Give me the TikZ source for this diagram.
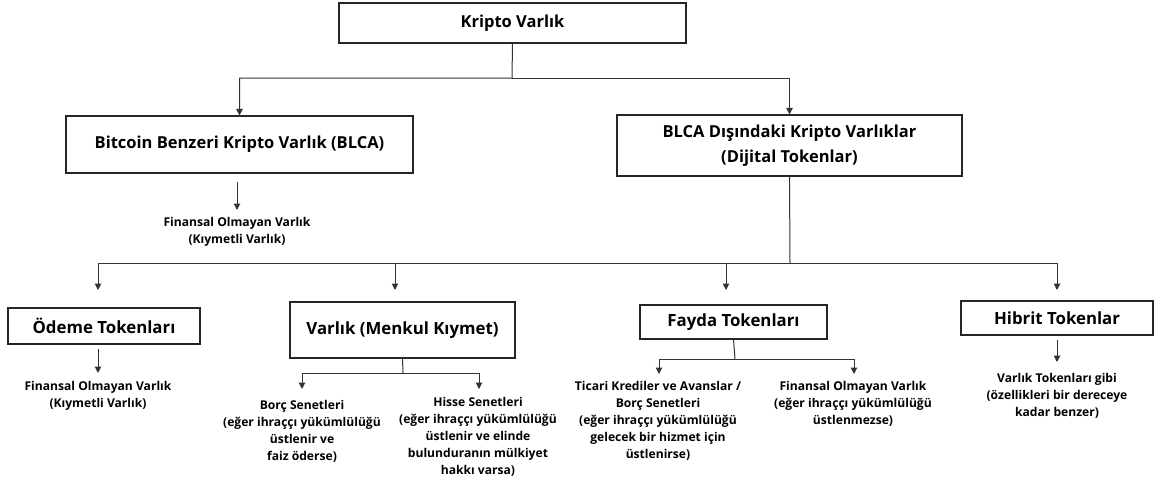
\documentclass[tikz,border=0pt]{standalone}
\usepackage{fontspec}
\setmainfont{Open Sans}
\usetikzlibrary{arrows.meta}
\begin{document}
\begin{tikzpicture}[x=1pt,y=-1pt,
  box/.style={draw=black!85, line width=1.1pt, rectangle, inner sep=0pt, align=center, font=\bfseries},
  bigtxt/.style={font=\fontsize{16.5}{25}\selectfont\bfseries},
  midtxt/.style={font=\fontsize{16.8}{20}\selectfont\bfseries},
  note/.style={align=center, inner sep=0pt, font=\fontsize{12.1}{17}\selectfont\bfseries},
  link/.style={draw=black!80, line width=1pt},
  arr/.style={link, -{Triangle[width=6.5pt,length=6.5pt]}}]
\useasboundingbox (0,0) rectangle (1162,483);

% top level
\node[box, bigtxt, minimum width=347pt, minimum height=40pt] (top) at (512.5,23) {Kripto Varlık};

% second level
\node[box, bigtxt, minimum width=347pt, minimum height=57pt] (blca) at (239.5,144.5) {Bitcoin Benzeri Kripto Varlık (BLCA)};
\node[box, bigtxt, minimum width=345pt, minimum height=61pt] (dij) at (789.5,145.5) {BLCA Dışındaki Kripto Varlıklar\\(Dijital Tokenlar)};

\coordinate (j1) at (512,78);
\draw[arr] (top.south) -- (j1) -| (blca.north);
\draw[arr] (j1) -| (dij.north);

% BLCA branch
\coordinate (b1) at (237,182);
\coordinate (b2) at (237,210);
\draw[arr] (b1) -- (b2);
\node[note] (blcaT) at (237,232) {Finansal Olmayan Varlık\\(Kıymetli Varlık)};

% token types
\node[box, midtxt, minimum width=192pt, minimum height=36pt] (odeme) at (104,326) {Ödeme Tokenları};
\node[box, midtxt, minimum width=225pt, minimum height=56pt] (varlik) at (402.5,330) {Varlık (Menkul Kıymet)};
\node[box, midtxt, minimum width=187pt, minimum height=34pt] (fayda) at (733.5,322) {Fayda Tokenları};
\node[box, midtxt, minimum width=192pt, minimum height=34pt] (hibrit) at (1057,318) {Hibrit Tokenlar};

\coordinate (j2) at (790,263);
\coordinate (t1) at (98,290);
\coordinate (t2) at (395,290);
\coordinate (t3) at (726,290);
\coordinate (t4) at (1057,290);
\coordinate (s2) at (395,263);
\coordinate (s3) at (726,263);
\draw[link] (dij.south) -- (j2);
\draw[arr] (j2) -| (t1);
\draw[arr] (j2) -| (t4);
\draw[arr] (s2) -- (t2);
\draw[arr] (s3) -- (t3);

% payment tokens
\coordinate (o1) at (98,349);
\coordinate (o2) at (98,373);
\draw[arr] (o1) -- (o2);
\node[note] (odemeT) at (98,396) {Finansal Olmayan Varlık\\(Kıymetli Varlık)};

% security tokens
\coordinate (j3) at (403,373);
\coordinate (v1) at (302,389);
\coordinate (v2) at (479,389);
\draw[link] (varlik.south) -- (j3);
\draw[arr] (j3) -| (v1);
\draw[arr] (j3) -| (v2);
\node[note] (borc) at (302,431) {Borç Senetleri\\(eğer ihraççı yükümlülüğü\\üstlenir ve\\faiz öderse)};
\node[note] (hisse) at (478,436.5) {Hisse Senetleri\\(eğer ihraççı yükümlülüğü\\üstlenir ve elinde\\bulunduranın mülkiyet\\hakkı varsa)};

% utility tokens
\coordinate (j4) at (735,359);
\coordinate (f1) at (659,374);
\coordinate (f2) at (854,374);
\draw[link] (fayda.south) -- (j4);
\draw[arr] (j4) -| (f1);
\draw[arr] (j4) -| (f2);
\node[note] (ticari) at (658,421) {Ticari Krediler ve Avanslar /\\Borç Senetleri\\(eğer ihraççı yükümlülüğü\\gelecek bir hizmet için\\üstlenirse)};
\node[note] (fayT) at (853,404) {Finansal Olmayan Varlık\\(eğer ihraççı yükümlülüğü\\üstlenmezse)};

% hybrid tokens
\coordinate (h1) at (1057,340);
\coordinate (h2) at (1057,362);
\draw[arr] (h1) -- (h2);
\node[note] (hibT) at (1057,396) {Varlık Tokenları gibi\\(özellikleri bir dereceye\\kadar benzer)};
\end{tikzpicture}
\end{document}
